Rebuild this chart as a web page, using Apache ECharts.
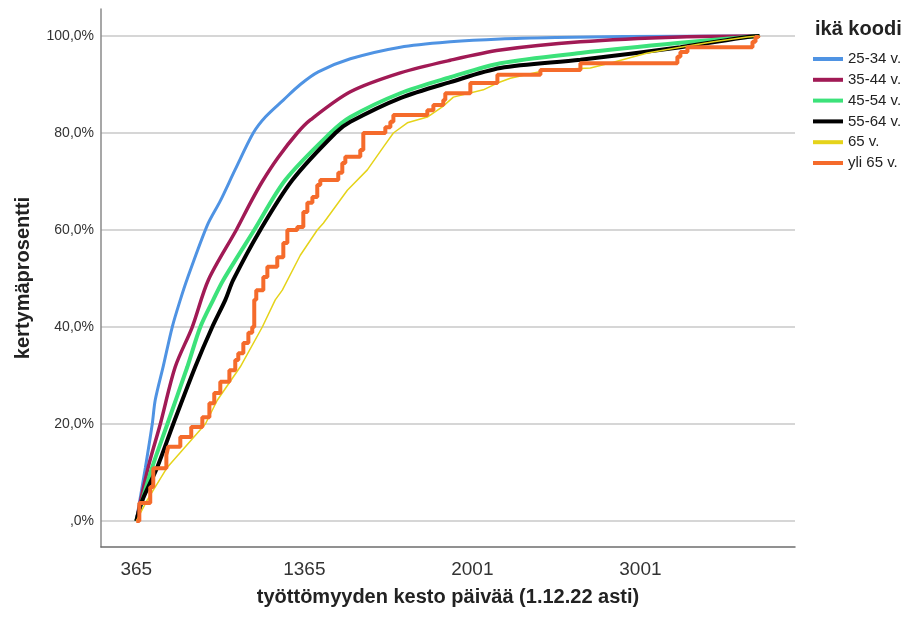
<!DOCTYPE html>
<html>
<head>
    <meta charset="utf-8">
    <title>kertymäprosentti</title>
    <style>
        html, body { margin: 0; padding: 0; background: #fff; }
    </style>
</head>
<body>
    <div id="main" style="width: 904px;height:620px;"></div>
    <script src="https://cdn.jsdelivr.net/npm/echarts@6/dist/echarts.min.js"></script>
    <script type="text/javascript">
    // x is the position along the (ordinal) duration axis: 0 = 365, 1 = 1365, 2 = 2001, 3 = 3001
    var xTickPos = [0, 1, 2, 3];
    var xTickLabels = ['365', '1365', '2001', '3001'];
    var yTicks = [0, 20, 40, 60, 80, 100];
    var groups = ['25-34 v.', '35-44 v.', '45-54 v.', '55-64 v.', '65 v.', 'yli 65 v.'];

    var age25_34 = [[0, 0], [0.054, 11], [0.095, 20], [0.113, 25], [0.161, 32], [0.214, 40], [0.262, 45.6],
        [0.304, 50], [0.423, 61], [0.5, 66], [0.589, 72.5], [0.696, 80], [0.768, 83.3], [0.875, 86.8],
        [0.976, 90], [1.083, 92.6], [1.274, 95.3], [1.571, 97.7], [1.869, 98.8], [2.167, 99.4],
        [2.5, 99.7], [2.9, 99.9], [3.708, 100]];
    var age35_44 = [[0, 0], [0.071, 11.1], [0.143, 20], [0.232, 31.8], [0.333, 40], [0.429, 49.7],
        [0.595, 60], [0.679, 65.6], [0.75, 70], [0.845, 75], [0.958, 80], [1.036, 82.7], [1.274, 88.5],
        [1.571, 92.4], [1.869, 95], [2.167, 97.1], [2.643, 98.8], [3.238, 99.8], [3.708, 100]];
    var age45_54 = [[0, 0], [0.095, 11.1], [0.185, 20], [0.304, 31.8], [0.381, 40], [0.458, 45.6],
        [0.518, 49.7], [0.702, 60], [0.887, 70.3], [1.155, 80], [1.274, 83.3], [1.571, 88.2],
        [1.869, 91.5], [2.167, 94.4], [2.643, 96.5], [3.238, 98.6], [3.708, 100]];
    var age55_64 = [[0, 0], [0.036, 4.3], [0.125, 11.1], [0.22, 20], [0.351, 31.8], [0.452, 40],
        [0.53, 45.6], [0.577, 49.7], [0.738, 60], [0.929, 70.3], [1.185, 80], [1.274, 82.3],
        [1.571, 87.2], [1.869, 90.5], [2.167, 93.4], [2.643, 95.1], [3.238, 97.7], [3.637, 99.8], [3.708, 100]];
    var age65 = [[0, 0], [0.065, 4.3], [0.185, 11.1], [0.411, 20], [0.482, 24.9], [0.619, 31.8],
        [0.75, 40], [0.827, 45.6], [0.869, 47.6], [0.976, 54.8], [1.077, 60], [1.113, 61.4],
        [1.256, 68.2], [1.375, 72.4], [1.47, 77.1], [1.53, 80], [1.613, 82.1], [1.732, 83.3],
        [1.821, 85.4], [1.887, 87.4], [2.065, 88.9], [2.149, 90.3], [2.226, 91.3], [2.446, 93],
        [2.702, 93.4], [2.839, 94.6], [3.042, 96.5], [3.238, 97.7], [3.435, 98.8], [3.637, 99.8], [3.708, 100]];
    var over65 = [[0, 0], [0.018, 3.7], [0.083, 7], [0.101, 10.9], [0.179, 13.6], [0.19, 15.3],
        [0.262, 17.3], [0.327, 19.4], [0.393, 21.4], [0.435, 24.3], [0.464, 26.4], [0.5, 28.7],
        [0.554, 31.1], [0.589, 33.2], [0.607, 34.6], [0.637, 36.7], [0.667, 38.8], [0.69, 40],
        [0.702, 45.6], [0.714, 47.6], [0.756, 50.3], [0.78, 52.4], [0.839, 54.4], [0.875, 57.3],
        [0.899, 60], [0.958, 60.6], [0.994, 63.7], [1.018, 65.6], [1.048, 66.8], [1.077, 69.3],
        [1.095, 70.3], [1.202, 71.8], [1.226, 73.8], [1.244, 75.1], [1.333, 76.5], [1.351, 80],
        [1.482, 81.2], [1.512, 82.3], [1.53, 83.7], [1.732, 84.7], [1.768, 85.8], [1.827, 86.8],
        [1.839, 88.2], [1.988, 90.3], [2.149, 92], [2.405, 93], [2.643, 94.4], [3.22, 95.7],
        [3.238, 96.7], [3.28, 97.7], [3.667, 98.8], [3.685, 99.8], [3.702, 100]];

    var seriesData = [age25_34, age35_44, age45_54, age55_64, age65, over65];
    var colors = ['#4f93e3', '#a11a55', '#3ce27a', '#000000', '#e5d31a', '#f56b2b'];
    var widths = [3, 3.5, 4, 4, 1.5, 4];

    var font = "'Liberation Sans', Arial, sans-serif";
    var myChart = echarts.init(document.getElementById('main'));

    var series = groups.map(function (name, i) {
        return {
            name: name,
            type: 'line',
            data: seriesData[i],
            symbol: 'none',
            smooth: i < 4 ? 0.3 : false,
            step: i === 5 ? 'end' : false,
            lineStyle: {color: colors[i], width: widths[i]},
            itemStyle: {color: colors[i]},
            silent: true
        };
    });

    var option = {
        animation: false,
        backgroundColor: '#fff',
        title: {
            text: 'ikä koodi',
            left: 815,
            top: 19,
            padding: 0,
            textStyle: {fontFamily: font, fontSize: 20, fontWeight: 'bold', color: '#222'}
        },
        legend: {
            orient: 'vertical',
            left: 813,
            top: 51,
            padding: 0,
            icon: 'rect',
            itemWidth: 30,
            itemHeight: 4,
            itemGap: 4.8,
            textStyle: {fontFamily: font, fontSize: 15, lineHeight: 16, color: '#222'},
            data: groups
        },
        grid: {left: 101, right: 109, top: 9, bottom: 73},
        xAxis: {
            type: 'value',
            min: -0.21,
            max: 3.92,
            name: 'työttömyyden kesto päivää (1.12.22 asti)',
            nameLocation: 'middle',
            nameGap: 40,
            nameTextStyle: {fontFamily: font, fontSize: 20, fontWeight: 'bold', color: '#222'},
            axisLine: {onZero: false, lineStyle: {color: '#6e6e6e', width: 1.5}},
            axisTick: {show: false, customValues: xTickPos},
            splitLine: {show: false},
            axisLabel: {
                customValues: xTickPos,
                margin: 13,
                fontFamily: font,
                fontSize: 19,
                color: '#333',
                formatter: function (v) {
                    var k = xTickPos.indexOf(v);
                    return k >= 0 ? xTickLabels[k] : '';
                }
            }
        },
        yAxis: {
            type: 'value',
            min: -5.36,
            max: 105.57,
            name: 'kertymäprosentti',
            nameLocation: 'middle',
            nameGap: 68,
            nameTextStyle: {fontFamily: font, fontSize: 20, fontWeight: 'bold', color: '#222'},
            axisLine: {show: true, onZero: false, lineStyle: {color: '#8a8a8a', width: 1.5}},
            axisTick: {show: false, customValues: yTicks},
            splitLine: {show: true, lineStyle: {color: '#c8c8c8', width: 1.5}},
            axisLabel: {
                customValues: yTicks,
                margin: 7,
                fontFamily: font,
                fontSize: 14,
                color: '#333',
                formatter: function (v) {
                    return v === 0 ? ',0%' : v.toFixed(1).replace('.', ',') + '%';
                }
            }
        },
        series: series
    };
    myChart.setOption(option);
    </script>
</body>
</html>
